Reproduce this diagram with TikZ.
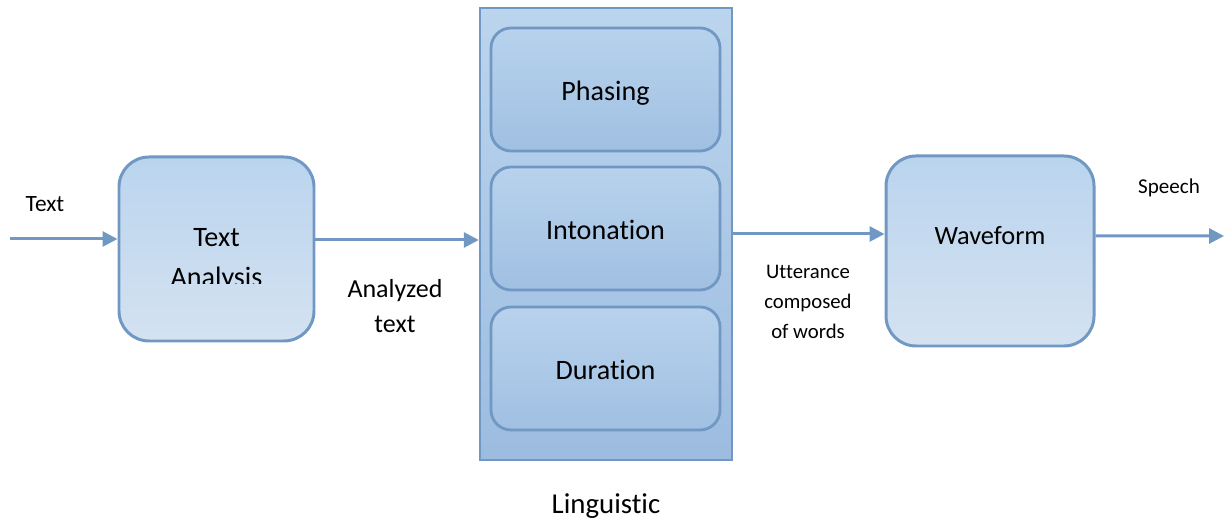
\documentclass[tikz,border=0pt]{standalone}
\usepackage{fontspec}
\setmainfont{Carlito}[Ligatures=NoCommon]
\usetikzlibrary{arrows.meta,positioning}
\definecolor{edgeblue}{RGB}{112,152,195}
\definecolor{boxtop}{RGB}{186,212,238}
\definecolor{boxbot}{RGB}{212,226,241}
\definecolor{inntop}{RGB}{184,210,237}
\definecolor{innbot}{RGB}{160,192,226}
\definecolor{outtop}{RGB}{188,213,238}
\definecolor{outbot}{RGB}{156,188,224}
\begin{document}
\begin{tikzpicture}[
    stage/.style={draw=edgeblue, line width=1.7pt, rounded corners=0.6cm,
        top color=boxtop, bottom color=boxbot},
    substage/.style={draw=edgeblue, line width=1.6pt, rounded corners=0.4cm,
        top color=inntop, bottom color=innbot,
        minimum width=4.58cm, minimum height=2.46cm,
        text height=12pt, text depth=0pt,
        font=\fontsize{16}{19}\selectfont},
    flow/.style={draw=edgeblue, line width=1.7pt, -{Triangle[length=0.3cm,width=0.3cm]}},
    lbl/.style={align=center, inner sep=0pt}
]
    \useasboundingbox (0,0) rectangle (24.52,10.4);

    % Text analysis
    \node[stage, minimum width=3.9cm, minimum height=3.68cm] (ta) at (4.33,5.42) {};
    \begin{scope}
        \clip (2.4,4.73) rectangle (6.3,7.2);
        \node[lbl, font=\fontsize{16}{23}\selectfont] (talbl) at (4.33,5.21) {Text\\Analysis};
    \end{scope}

    % Linguistic block
    \node[draw=edgeblue, line width=1.4pt, top color=outtop, bottom color=outbot,
        minimum width=5.04cm, minimum height=9.04cm] (ling) at (12.12,5.72) {};
    \node[substage] (phas) at (12.11,8.61) {Phasing};
    \node[substage] (inton) at (12.11,5.83) {Intonation};
    \node[substage] (dur) at (12.11,3.03) {Duration};
    \node[lbl, anchor=base, font=\fontsize{16.4}{20}\selectfont] (linglbl) at (12.12,0.12) {Linguistic};

    % Waveform
    \node[stage, minimum width=4.16cm, minimum height=3.8cm] (wave) at (19.8,5.38) {};
    \node[lbl, font=\fontsize{15}{18}\selectfont] (wavelbl) at (19.8,5.68) {Waveform};

    % Connectors
    \coordinate (in) at (0.2,5.62);
    \coordinate (out) at (24.48,5.68);
    \draw[flow] (in) -- (in -| ta.west);
    \draw[flow] ([yshift=0.18cm]ta.east) -- ([yshift=0.18cm]ta.east -| ling.west);
    \draw[flow] (ling.east) -- (ling.east -| wave.west);
    \draw[flow] ([yshift=0.3cm]wave.east) -- (out);

    % Labels
    \node[lbl, font=\fontsize{13.3}{16}\selectfont] (intxt) at (0.9,6.32) {Text};
    \node[lbl, font=\fontsize{14.8}{20.4}\selectfont] (anatxt) at (7.9,4.28) {Analyzed\\text};
    \node[lbl, font=\fontsize{11.8}{17}\selectfont] (utt) at (16.16,4.36) {Utterance\\composed\\of words};
    \node[lbl, font=\fontsize{12}{15}\selectfont] (speech) at (23.38,6.64) {Speech};
\end{tikzpicture}
\end{document}
